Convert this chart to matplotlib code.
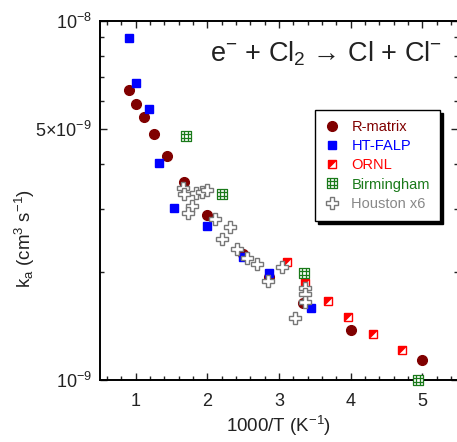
import numpy as np
import matplotlib
matplotlib.use('Agg')
import matplotlib.pyplot as plt
from matplotlib.path import Path
from matplotlib.ticker import FixedLocator, FixedFormatter, MultipleLocator, NullFormatter, LogLocator
from matplotlib.legend_handler import HandlerTuple

plt.rcParams['font.family'] = ['Liberation Sans', 'DejaVu Sans']
plt.rcParams['mathtext.fontset'] = 'custom'
plt.rcParams['mathtext.rm'] = 'Liberation Sans'
plt.rcParams['mathtext.it'] = 'Liberation Sans:italic'
plt.rcParams['mathtext.bf'] = 'Liberation Sans:bold'

# Datos: 1000/T (K^-1) y coeficiente de captura k_a (cm^3 s^-1)
rmatrix_x = [0.91, 1.0, 1.11, 1.25, 1.43, 1.67, 2.0, 2.5, 2.86, 3.33, 4.0, 5.0]
rmatrix_k = [6.42e-9, 5.88e-9, 5.41e-9, 4.83e-9, 4.22e-9, 3.56e-9, 2.88e-9,
             2.24e-9, 1.94e-9, 1.64e-9, 1.38e-9, 1.14e-9]

falp_x = [0.91, 1.0, 1.18, 1.33, 1.54, 2.0, 2.5, 2.86, 3.45]
falp_k = [8.99e-9, 6.73e-9, 5.69e-9, 4.03e-9, 3.01e-9, 2.69e-9, 2.20e-9,
          1.99e-9, 1.59e-9]

ornl_x = [3.11, 3.37, 3.68, 3.97, 4.31, 4.72]
ornl_k = [2.13e-9, 1.86e-9, 1.66e-9, 1.50e-9, 1.34e-9, 1.21e-9]

birm_x = [1.70, 2.20, 3.35, 4.94]
birm_k = [4.79e-9, 3.30e-9, 1.99e-9, 1.0e-9]

houston_x = [1.66, 1.67, 1.84, 1.93, 1.99, 1.79, 1.73, 2.11, 2.32, 2.21,
             2.42, 2.55, 2.69, 2.84, 3.04, 3.37, 3.37, 3.37, 3.23]
houston_k = [3.42e-9, 3.30e-9, 3.31e-9, 3.33e-9, 3.38e-9, 3.05e-9, 2.91e-9,
             2.80e-9, 2.67e-9, 2.47e-9, 2.31e-9, 2.19e-9, 2.11e-9, 1.89e-9,
             2.07e-9, 1.80e-9, 1.74e-9, 1.65e-9, 1.49e-9]

series_names = ['R-matrix', 'HT-FALP', 'ORNL', 'Birmingham', 'Houston x6']
series_colors = ['#800000', '#0000ff', '#ff0000', '#1a7a1a', '#888888']

# Marcadores propios: cuadrado con rejilla y triangulo para medio relleno
grid_verts = [(-1, -1), (1, -1), (1, 1), (-1, 1), (-1, -1),
              (-1 / 3, -1), (-1 / 3, 1), (1 / 3, -1), (1 / 3, 1),
              (-1, -1 / 3), (1, -1 / 3), (-1, 1 / 3), (1, 1 / 3)]
grid_codes = [Path.MOVETO, Path.LINETO, Path.LINETO, Path.LINETO, Path.CLOSEPOLY,
              Path.MOVETO, Path.LINETO, Path.MOVETO, Path.LINETO,
              Path.MOVETO, Path.LINETO, Path.MOVETO, Path.LINETO]
grid_marker = Path(grid_verts, grid_codes)
tri_marker = Path([(-1, -1), (-1, 1), (1, 1), (-1, -1)],
                  [Path.MOVETO, Path.LINETO, Path.LINETO, Path.CLOSEPOLY])

fig = plt.figure(figsize=(4.57, 4.42), dpi=100)
ax = fig.add_axes([100 / 457, 62 / 442, 358 / 457, 359 / 442])

h_rm, = ax.plot(rmatrix_x, rmatrix_k, 'o', ms=7, color=series_colors[0],
                mec=series_colors[0], ls='none')
h_fa, = ax.plot(falp_x, falp_k, 's', ms=6.3, color=series_colors[1],
                mec=series_colors[1], ls='none')
h_or1, = ax.plot(ornl_x, ornl_k, 's', ms=6, mfc='white', mec=series_colors[2],
                 mew=1.0, ls='none')
h_or2, = ax.plot(ornl_x, ornl_k, marker=tri_marker, ms=6, mfc=series_colors[2],
                 mec=series_colors[2], mew=0.6, ls='none')
h_bi, = ax.plot(birm_x, birm_k, marker=grid_marker, ms=6.5, mfc='white',
                mec=series_colors[3], mew=0.9, ls='none', clip_on=False, zorder=5)
h_ho, = ax.plot(houston_x, houston_k, 'P', ms=8, mfc='white',
                mec='#777777', mew=1.0, ls='none', zorder=6)

ax.set_yscale('log')
ax.set_xlim(0.5, 5.5)
ax.set_ylim(1e-9, 1e-8)

ax.xaxis.set_major_locator(FixedLocator([1, 2, 3, 4, 5]))
ax.xaxis.set_minor_locator(MultipleLocator(0.2))
ax.yaxis.set_major_locator(FixedLocator([1e-9, 5e-9, 1e-8]))
ax.yaxis.set_major_formatter(FixedFormatter([r'$10^{-9}$', r'$5{\times}10^{-9}$', r'$10^{-8}$']))
ax.yaxis.set_minor_locator(LogLocator(base=10, subs=[2, 3, 4, 6, 7, 8, 9]))
ax.yaxis.set_minor_formatter(NullFormatter())

ax.tick_params(which='both', direction='in', top=True, right=True, labelsize=13,
               colors='#222222', width=1.0)
ax.tick_params(which='major', length=5)
ax.tick_params(axis='x', which='major', pad=9)
ax.tick_params(axis='y', which='major', pad=6)
ax.tick_params(which='minor', length=3)
for s in ax.spines.values():
    s.set_linewidth(1.4)

ax.set_xlabel(r'1000/T (K$^{-1}$)', fontsize=13.5, color='#222222')
ax.set_ylabel(r'k$_{\rm a}$ (cm$^{3}$ s$^{-1}$)', fontsize=13.5, color='#222222')
ax.yaxis.set_label_coords(-0.175, 0.395)
ax.xaxis.set_label_coords(0.5, -0.095)

ax.text(0.955, 0.91, r'e$^{-}$ + Cl$_{2}$ → Cl + Cl$^{-}$', transform=ax.transAxes,
        ha='right', va='center', fontsize=19.5, color='#222222')

leg = ax.legend([h_rm, h_fa, (h_or1, h_or2), h_bi, h_ho], series_names,
                handler_map={tuple: HandlerTuple(ndivide=1)},
                loc='upper left', bbox_to_anchor=(0.60, 0.752), borderaxespad=0,
                fontsize=10.5, frameon=True, fancybox=False, handlelength=1.0,
                handletextpad=0.8, labelspacing=0.35, borderpad=0.7,
                shadow={'color': 'black', 'alpha': 1.0, 'ox': 2, 'oy': -2})
leg.get_frame().set_edgecolor('black')
leg.get_frame().set_linewidth(1.0)
for txt, c in zip(leg.get_texts(), series_colors):
    txt.set_color(c)

fig.savefig('out.png', dpi=100)
